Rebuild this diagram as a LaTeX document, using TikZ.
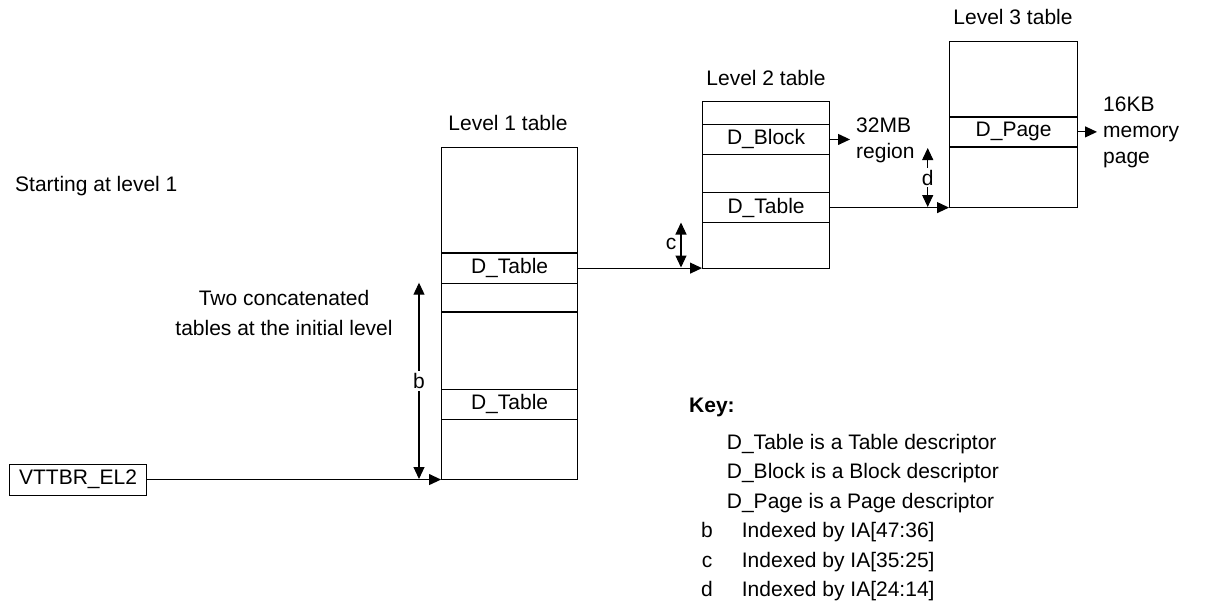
\documentclass[tikz,border=0pt]{standalone}
\usepackage{fontspec}
\setmainfont{Liberation Sans}
\usetikzlibrary{arrows.meta}
\begin{document}
\begin{tikzpicture}[x=1pt,y=-1pt,font=\fontsize{21}{26}\selectfont,
  tbl/.style={draw,line width=1.1pt,inner sep=0pt,anchor=north west,rectangle},
  rowbox/.style={draw,line width=1.2pt,inner sep=0pt,anchor=north west,rectangle},
  arr/.style={-{Triangle[length=12pt,width=11pt]},line width=1.1pt},
  dbl/.style={{Triangle[length=12pt,width=11pt]}-{Triangle[length=12pt,width=11pt]},line width=1.1pt},
  lbl/.style={inner sep=0pt}]
\useasboundingbox (0,0) rectangle (1226,605);

% Level 1 table
\node[tbl,minimum width=136pt,minimum height=332pt] (l1) at (441,147) {};
\node[rowbox,minimum width=136pt,minimum height=30.4pt] (r1a) at (441,252.3) {D\_Table};
\node[rowbox,minimum width=136pt,minimum height=30.3pt] (r1c) at (441,388.7) {D\_Table};
\coordinate (sepy) at (0,312.3);
\draw[line width=1.7pt] (l1.west |- sepy) -- (l1.east |- sepy);
\node[lbl] (t1) at (508,123) {Level 1 table};

% Level 2 table
\node[tbl,minimum width=127pt,minimum height=166.5pt] (l2) at (702,101) {};
\node[rowbox,minimum width=127pt,minimum height=30.3pt] (r2b) at (702,123.7) {D\_Block};
\node[rowbox,minimum width=127pt,minimum height=30pt] (r2d) at (702,192) {D\_Table};
\node[lbl] (t2) at (766,78) {Level 2 table};

% Level 3 table
\node[tbl,minimum width=128pt,minimum height=166pt] (l3) at (949,41) {};
\node[rowbox,minimum width=128pt,minimum height=30pt] (r3) at (949,116.3) {D\_Page};
\node[lbl] (t3) at (1013,17) {Level 3 table};

% register
\node[draw,line width=1.1pt,inner sep=0pt,minimum width=137pt,minimum height=31pt,anchor=north west] (v) at (9,463.5) {VTTBR\_EL2};

% texts
\node[lbl,anchor=west] (start) at (15,186) {Starting at level 1};
\node[lbl,align=center,font=\fontsize{21}{30}\selectfont] (conc) at (284,313) {Two concatenated\\tables at the initial level};
\node[lbl,anchor=west,align=left] (mbt) at (856,140) {32MB\\region};
\node[lbl,anchor=west,align=left] (kbt) at (1103,132) {16KB\\memory\\page};

% connectors
\coordinate (mb) at (850,138.85);
\coordinate (kb) at (1097,131.3);
\draw[arr] (v.east) -- (v.east -| l1.west);
\draw[arr] (r1a.east) -- (r1a.east -| l2.west);
\draw[arr] (r2d.east) -- (r2d.east -| l3.west);
\draw[arr] (r2b.east) -- (r2b.east -| mb);
\draw[arr] (r3.east) -- (r3.east -| kb);

% index arrows
\coordinate (bt) at (419,282.7);
\coordinate (bb) at (419,479);
\draw[dbl] (bt) -- node[fill=white,inner sep=2pt] (bl) {b} (bb);
\coordinate (ct) at (681,222.5);
\coordinate (cb) at (681,267.5);
\draw[dbl] (ct) -- (cb);
\node[lbl] (cl) at (671,244) {c};
\coordinate (dt) at (927.7,148);
\coordinate (db) at (927.7,207);
\draw[dbl] (dt) -- node[fill=white,inner sep=2pt] (dl) {d} (db);

% key
\node[lbl,anchor=base west] (key) at (689,412.5) {\bfseries Key:};
\node[lbl,anchor=base west] (k1) at (726.7,449) {D\_Table is a Table descriptor};
\node[lbl,anchor=base west] (k2) at (726.7,478.5) {D\_Block is a Block descriptor};
\node[lbl,anchor=base west] (k3) at (726.7,508) {D\_Page is a Page descriptor};
\node[lbl,anchor=base] (kb1) at (707,537.5) {b};
\node[lbl,anchor=base west] (kb2) at (741.7,537.5) {Indexed by IA[47:36]};
\node[lbl,anchor=base] (kc1) at (707,567) {c};
\node[lbl,anchor=base west] (kc2) at (741.7,567) {Indexed by IA[35:25]};
\node[lbl,anchor=base] (kd1) at (707,596.5) {d};
\node[lbl,anchor=base west] (kd2) at (741.7,596.5) {Indexed by IA[24:14]};
\end{tikzpicture}
\end{document}
